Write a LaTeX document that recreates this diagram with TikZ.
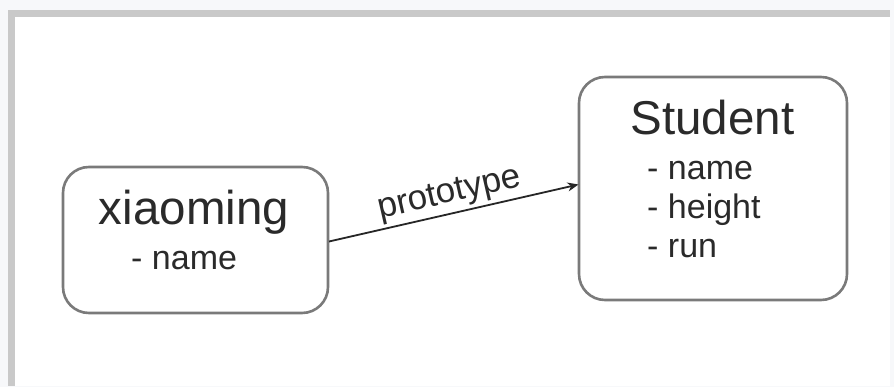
\documentclass[tikz,border=0pt]{standalone}
\usepackage{fontspec}
\setmainfont{Liberation Sans}
\usetikzlibrary{arrows.meta}
\definecolor{outerbg}{HTML}{F7F8FA}
\definecolor{framegray}{HTML}{C9C9C9}
\definecolor{boxline}{HTML}{7A7A7A}
\definecolor{txt}{HTML}{2A2A2A}
\tikzset{
  classbox/.style={draw=boxline, line width=2.6pt, rounded corners=26pt, fill=white, inner sep=0pt, outer sep=0pt},
  title/.style={font=\fontsize{47.5}{52}\selectfont, text=txt, inner sep=0pt, anchor=base},
  attr/.style={font=\fontsize{34}{40}\selectfont, text=txt, inner sep=0pt, anchor=base west},
  link/.style={draw=black!85, line width=1.8pt, -{Stealth[length=11pt,width=9pt]}},
}
\begin{document}
\begin{tikzpicture}[x=1pt,y=-1pt]
\useasboundingbox (0,0) rectangle (894,387);
\fill[outerbg] (0,0) rectangle (894,387);
\fill[framegray] (8,10) rectangle (890,386);
\fill[white] (15,17) rectangle (890,386);
% boxes
\node[classbox, minimum width=265pt, minimum height=146pt] (xiaoming) at (195.5,240) {};
\node[classbox, minimum width=268pt, minimum height=223pt] (student) at (713,188.5) {};
% texts
\node[title] (xt) at (194,225) {xiaoming};
\node[attr] (xa) at (131,270) {- name};
\node[title] (st) at (712.5,135) {Student};
\node[attr] (sa1) at (647,180) {- name};
\node[attr] (sa2) at (647,219) {- height};
\node[attr] (sa3) at (647,258) {- run};
% connector
\draw[link] ([xshift=1pt,yshift=-1.5pt]xiaoming.east) -- node[sloped, above, pos=0.5, font=\fontsize{35}{40}\selectfont, text=txt, inner sep=3pt] (lbl) {prototype} ([xshift=-0.5pt,yshift=4pt]student.west);
\end{tikzpicture}
\end{document}
